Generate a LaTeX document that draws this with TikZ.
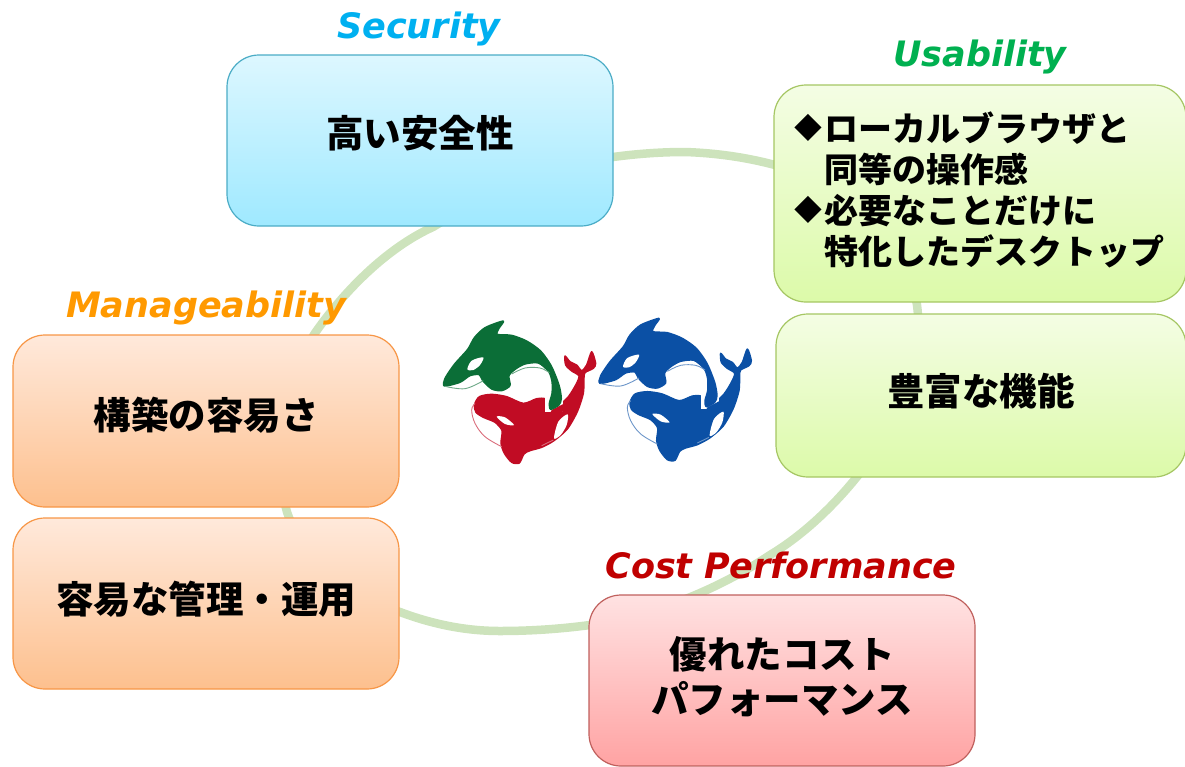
\documentclass[tikz,border=0pt]{standalone}
\usepackage{fontspec}
\newfontfamily\jpfont{Noto Sans CJK JP}
\newfontfamily\labfont{DejaVu Sans}
\definecolor{ringc}{HTML}{CDE3BC}
\definecolor{secH}{HTML}{00B0F0}\definecolor{useH}{HTML}{00B050}\definecolor{manH}{HTML}{FF9900}\definecolor{cosH}{HTML}{C00000}
\definecolor{secT}{HTML}{DDF7FF}\definecolor{secB}{HTML}{9FE9FF}\definecolor{secE}{HTML}{4BACC6}
\definecolor{useT}{HTML}{F4FDE4}\definecolor{useB}{HTML}{DCFAA9}\definecolor{useE}{HTML}{A5C663}
\definecolor{manT}{HTML}{FFE9DB}\definecolor{manB}{HTML}{FDC08E}\definecolor{manE}{HTML}{F79646}
\definecolor{cosT}{HTML}{FFE2E2}\definecolor{cosB}{HTML}{FFA3A3}\definecolor{cosE}{HTML}{C0605D}
\definecolor{orcaG}{HTML}{0B6E37}\definecolor{orcaR}{HTML}{C10C24}\definecolor{orcaB}{HTML}{0B50A5}
\tikzset{
  cardbase/.style={rounded corners=32pt,line width=1.2pt,inner sep=0pt},
  seccard/.style={cardbase,draw=secE,top color=secT,bottom color=secB},
  usecard/.style={cardbase,draw=useE,top color=useT,bottom color=useB},
  mancard/.style={cardbase,draw=manE,top color=manT,bottom color=manB},
  costcard/.style={cardbase,draw=cosE,top color=cosT,bottom color=cosB},
  cardtext/.style={inner sep=0pt,align=center,text=black,font=\jpfont\bfseries\fontsize{37.5}{45}\selectfont},
  listtext/.style={inner sep=0pt,align=left,text=black,font=\jpfont\bfseries\fontsize{34}{41}\selectfont},
  heading/.style={font=\labfont\bfseries\itshape\fontsize{35}{40}\selectfont,inner sep=0pt},
  ringline/.style={draw=ringc,line width=8.5pt},
}
\newcommand\bul{\makebox[30pt][l]{\raisebox{2.5pt}{\scalebox{.82}{◆}}}}
\newcommand\orcapair[4]{%
 % #1 upper colour, #2 lower colour, #3 #4 offset in zoomed units
 \begin{scope}[shift={(#3,#4)}]
  \filldraw[fill=#2,draw=#2,line width=1.4pt,line join=round] plot[smooth cycle,tension=.45] coordinates{(133,285)(148,260)(185,253)(230,260)(280,280)(320,266)(345,266)(362,283)(354,298)(385,288)(415,260)(437,225)(447,198)(425,183)(407,165)(405,138)(420,155)(440,165)(455,182)(470,165)(485,125)(497,160)(490,175)(465,188)(462,205)(460,250)(442,305)(412,357)(372,392)(335,412)(300,422)(282,432)(268,459)(245,457)(223,430)(213,400)(216,362)(195,337)(160,322)(138,307)};
  \fill[white] plot[smooth cycle,tension=.5] coordinates{(200,320)(225,322)(252,345)(225,342)};
  \fill[white] plot[smooth cycle,tension=.5] coordinates{(372,385)(385,335)(413,313)(410,345)(392,375)};
  \draw[#2!60,line width=.9pt] plot[smooth,tension=.6] coordinates{(135,280)(125,300)(135,340)(165,380)(215,410)};
  \draw[#2!60,line width=.9pt] plot[smooth,tension=.6] coordinates{(335,407)(370,390)};
  \fill[white] (345,262) rectangle (400,305);
  \fill[#2] (365,300) -- (400,282) -- (400,305) -- (360,310) -- cycle;
  \filldraw[fill=#1,draw=#1,line width=1.4pt,line join=round] plot[smooth cycle,tension=.45] coordinates{(43,228)(45,205)(73,163)(113,118)(133,83)(165,53)(220,33)(207,55)(202,73)(245,76)(290,93)(332,123)(364,168)(387,225)(394,265)(387,285)(362,298)(358,280)(366,250)(366,215)(356,185)(325,159)(285,162)(257,177)(237,197)(240,227)(215,242)(185,237)(158,212)(148,194)(120,197)(90,217)};
  \fill[white] plot[smooth cycle,tension=.5] coordinates{(112,178)(125,152)(160,142)(150,165)(130,180)};
  \draw[#1!60,line width=.9pt] plot[smooth,tension=.6] coordinates{(45,229)(105,236)(160,212)};
  \draw[#1!60,line width=.9pt] plot[smooth,tension=.6] coordinates{(245,192)(285,174)(330,174)(358,188)};
 \end{scope}}
\begin{document}
\begin{tikzpicture}[x=1pt,y=-1pt]
\useasboundingbox (0,0) rectangle (1185,766);
\draw[ringline] (433,227) .. controls (393,245) and (350,283) .. (315,333)
  .. controls (285,380) and (272,460) .. (287,512)
  .. controls (305,565) and (350,595) .. (400,612)
  .. controls (432,624) and (465,631) .. (500,631)
  .. controls (530,631) and (560,629) .. (590,625)
  .. controls (660,615) and (725,585) .. (770,555)
  .. controls (800,537) and (830,510) .. (856,478)
  .. controls (895,430) and (925,365) .. (917,305)
  .. controls (905,240) and (850,185) .. (775,165)
  .. controls (745,157) and (715,153) .. (685,152)
  .. controls (660,152) and (635,154) .. (613,157)
  .. controls (550,165) and (490,192) .. (433,227) -- cycle;
\node[seccard,minimum width=386pt,minimum height=171pt] (sec) at (420,140.5) {};
\node[cardtext] (sect) at ([yshift=7.5pt]sec.center) {高い安全性};
\node[usecard,minimum width=412pt,minimum height=217pt] (use1) at (980,193.5) {};
\node[listtext] (uset) at ([xshift=-1pt,yshift=4pt]use1.center) {\bul ローカルブラウザと\\\hspace*{30pt}同等の操作感\\\bul 必要なことだけに\\\hspace*{30pt}特化したデスクトップ};
\node[usecard,minimum width=410pt,minimum height=163pt] (use2) at (981,395.5) {};
\node[cardtext] (use2t) at ([yshift=4.5pt]use2.center) {豊富な機能};
\node[mancard,minimum width=386pt,minimum height=172pt] (man1) at (206,421) {};
\node[cardtext] (man1t) at ([yshift=5.5pt]man1.center) {構築の容易さ};
\node[mancard,minimum width=386pt,minimum height=171pt] (man2) at (206,603.5) {};
\node[cardtext] (man2t) at ([yshift=4pt]man2.center) {容易な管理・運用};
\node[costcard,minimum width=386pt,minimum height=171pt] (cost) at (782,680.5) {};
\node[cardtext] (costt) at ([yshift=3.5pt]cost.center) {優れたコスト\\パフォーマンス};
\node[heading,text=secH] (h1) at (419,29) {Security};
\node[heading,text=useH] (h2) at (980,57) {Usability};
\node[heading,text=manH] (h3) at (206,308) {Manageability};
\node[heading,text=cosH] (h4) at (781,565) {Cost Performance};
\begin{scope}[shift={(430,310)},x=.33333pt,y=-.33333pt]
 \orcapair{orcaG}{orcaR}{0}{0}
 \orcapair{orcaB}{orcaB}{467}{-8}
\end{scope}
\end{tikzpicture}
\end{document}
